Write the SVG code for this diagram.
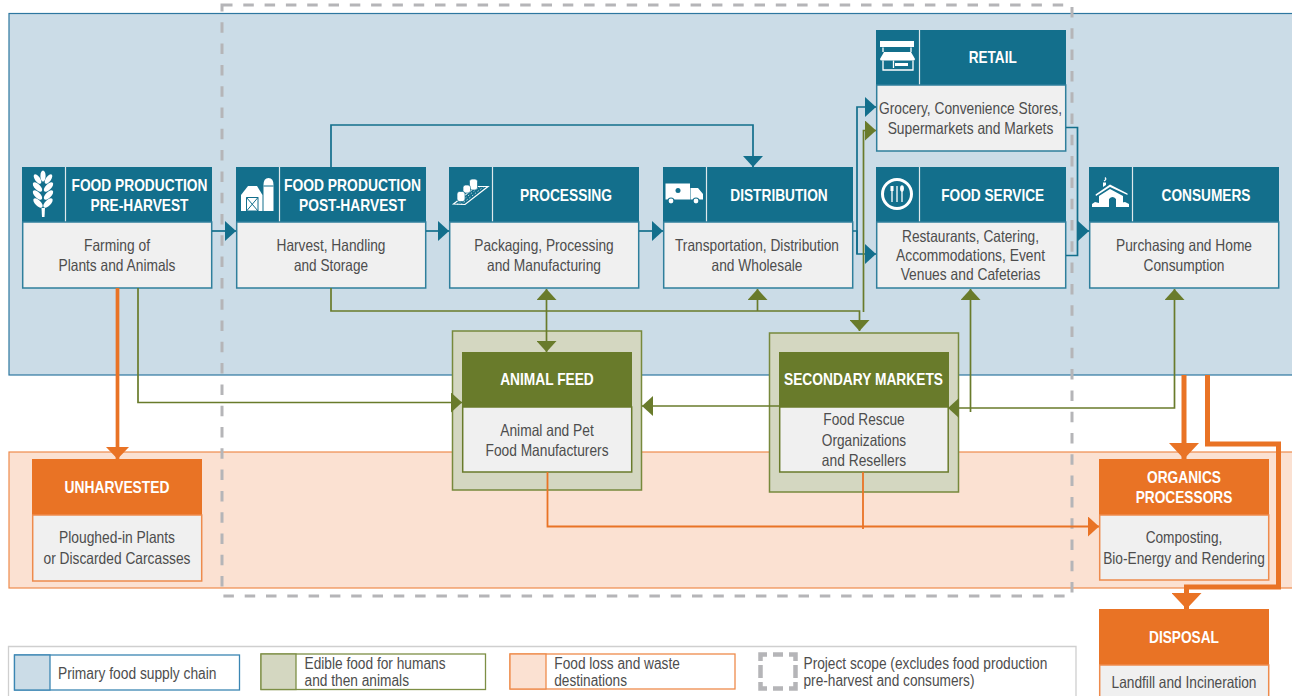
<svg xmlns="http://www.w3.org/2000/svg" width="1292" height="696" viewBox="0 0 1292 696">
<style>
text{font-family:"Liberation Sans",Arial,sans-serif;text-anchor:middle}
.h{font-size:16.500px;font-weight:700;fill:#fff}
.b{font-size:16.500px;fill:#4d4d4d}
.l{font-size:16px;fill:#4d4d4d;text-anchor:start}
.th{fill:#136f8c}.gh{fill:#697b2b}.oh{fill:#e97325}
.tb{fill:#f0f0f0;stroke:#2f7f9c;stroke-width:1.5}
.gb{fill:#f0f0f0;stroke:#697b2b;stroke-width:1.5}
.ob{fill:#f0f0f0;stroke:#ee8b4c;stroke-width:1.5}
.div{stroke:#dfe8ec;stroke-width:1.2}
.outer{fill:#d4d7c1;stroke:#77893c;stroke-width:1.5}
.ic{fill:#fff}.ict{fill:#136f8c}.ics{fill:none;stroke:#fff;stroke-width:1.3}
.ct{fill:none;stroke:#136f8c;stroke-width:1.7}
.cg{fill:none;stroke:#697b2b;stroke-width:1.7}
.co{fill:none;stroke:#e97325;stroke-width:1.8}
.coM{fill:none;stroke:#e97325;stroke-width:3.7}
.coL{fill:none;stroke:#e97325;stroke-width:5}
.dash{fill:none;stroke:#b5b5b8;stroke-width:3;stroke-dasharray:10.5 10.8}
</style>
<defs>
<marker id="at" markerUnits="userSpaceOnUse" markerWidth="11" markerHeight="20" refX="11" refY="10" orient="auto-start-reverse"><path d="M0 0L11 10L0 20Z" fill="#136f8c"/></marker>
<marker id="ag" markerUnits="userSpaceOnUse" markerWidth="11" markerHeight="20" refX="11" refY="10" orient="auto-start-reverse"><path d="M0 0L11 10L0 20Z" fill="#697b2b"/></marker>
<marker id="ao" markerUnits="userSpaceOnUse" markerWidth="11" markerHeight="20" refX="11" refY="10" orient="auto"><path d="M0 0L11 10L0 20Z" fill="#e97325"/></marker>
<marker id="aoM" markerUnits="userSpaceOnUse" markerWidth="12" markerHeight="23" refX="12" refY="11.500" orient="auto"><path d="M0 0L12 11.500L0 23Z" fill="#e97325"/></marker>
<marker id="aoL" markerUnits="userSpaceOnUse" markerWidth="16" markerHeight="30" refX="16" refY="15" orient="auto"><path d="M0 0L16 15L0 30Z" fill="#e97325"/></marker>
</defs>

<rect id="band-primary" x="9" y="13.500" width="1290" height="361.500" fill="#cbdce7" stroke="#2d77a0" stroke-width="1.200"/>
<rect id="band-loss" x="9" y="452" width="1290" height="136" fill="#fbe1d2" stroke="#ee8b4c" stroke-width="1.200"/>
<rect id="scope" class="dash" x="222" y="5" width="850" height="591"/>

<g id="pre-harvest">
<rect class="th" x="22" y="167" width="190" height="55"/><path class="div" d="M65.500 167V222"/>
<rect class="tb" x="22.700" y="222" width="189" height="66"/>
<g class="ic"><ellipse cx="43" cy="176" rx="2.600" ry="5.500"/>
<ellipse cx="37.500" cy="179" rx="2.600" ry="5.500" transform="rotate(-35 37.500 179)"/><ellipse cx="48.500" cy="179" rx="2.600" ry="5.500" transform="rotate(35 48.500 179)"/>
<ellipse cx="37.500" cy="187" rx="2.800" ry="6" transform="rotate(-45 37.500 187)"/><ellipse cx="48.500" cy="187" rx="2.800" ry="6" transform="rotate(45 48.500 187)"/>
<ellipse cx="37.500" cy="195" rx="2.800" ry="6" transform="rotate(-45 37.500 195)"/><ellipse cx="48.500" cy="195" rx="2.800" ry="6" transform="rotate(45 48.500 195)"/>
<ellipse cx="38" cy="203" rx="2.800" ry="6" transform="rotate(-45 38 203)"/><ellipse cx="48" cy="203" rx="2.800" ry="6" transform="rotate(45 48 203)"/>
<path d="M41.500 208H45L44.500 217H42Z"/></g>
<text class="h" x="139.500" y="191" textLength="136" lengthAdjust="spacingAndGlyphs">FOOD PRODUCTION</text>
<text class="h" x="139.500" y="211" textLength="98" lengthAdjust="spacingAndGlyphs">PRE-HARVEST</text>
<text class="b" x="117" y="251" textLength="66" lengthAdjust="spacingAndGlyphs">Farming of</text>
<text class="b" x="117" y="271" textLength="117" lengthAdjust="spacingAndGlyphs">Plants and Animals</text>
</g>

<g id="post-harvest">
<rect class="th" x="236" y="167" width="190" height="55"/><path class="div" d="M279.500 167V222"/>
<rect class="tb" x="236.700" y="222" width="189" height="66"/>
<path class="ic" d="M241 211V195L248 186H257L262.500 195V211Z"/><path class="ic" d="M263.500 211V185Q263.500 178 268.500 178Q273.500 178 273.500 185V211Z"/>
<path d="M263.500 186H273.500" stroke="#136f8c" stroke-width="1"/>
<path d="M246.500 197.500H258V211H246.500ZM246.500 197.500L258 211M258 197.500L246.500 211" fill="none" stroke="#136f8c" stroke-width="1"/>
<text class="h" x="352.500" y="191" textLength="137" lengthAdjust="spacingAndGlyphs">FOOD PRODUCTION</text>
<text class="h" x="352.500" y="211" textLength="107" lengthAdjust="spacingAndGlyphs">POST-HARVEST</text>
<text class="b" x="331" y="251" textLength="109" lengthAdjust="spacingAndGlyphs">Harvest, Handling</text>
<text class="b" x="331" y="271" textLength="74" lengthAdjust="spacingAndGlyphs">and Storage</text>
</g>

<g id="processing">
<rect class="th" x="449" y="167" width="190" height="55"/><path class="div" d="M492.500 167V222"/>
<rect class="tb" x="449.700" y="222" width="189" height="66"/>
<path d="M453.500 204L476 186.500H488L465 204.500Z" fill="none" stroke="#fff" stroke-width="1.200"/>
<path d="M457 204.500L480 186.500M461 204.500L484 186.500" stroke="#fff" stroke-width="0.700" stroke-dasharray="1.500 2"/>
<g class="ic" stroke="#136f8c" stroke-width="0.700"><rect x="469.500" y="179" width="8" height="11" rx="2.500"/><rect x="463" y="185" width="7.500" height="8" rx="2.500"/><rect x="457" y="191.500" width="8" height="10" rx="2.500"/></g>
<text class="h" x="566" y="201" textLength="92" lengthAdjust="spacingAndGlyphs">PROCESSING</text>
<text class="b" x="544" y="251" textLength="139.500" lengthAdjust="spacingAndGlyphs">Packaging, Processing</text>
<text class="b" x="544" y="271" textLength="114" lengthAdjust="spacingAndGlyphs">and Manufacturing</text>
</g>

<g id="distribution">
<rect class="th" x="663" y="167" width="190" height="55"/><path class="div" d="M706.500 167V222"/>
<rect class="tb" x="663.700" y="222" width="189" height="66"/>
<path class="ic" d="M665.500 183.500H690V199.500H665.500ZM690.500 188H698L703 194V199.500H690.500Z"/>
<circle class="ict" cx="678" cy="190.500" r="2.500"/>
<g class="ic" stroke="#136f8c" stroke-width="1.200"><circle cx="671" cy="201" r="3"/><circle cx="696" cy="201" r="3"/></g>
<text class="h" x="779" y="201" textLength="97.500" lengthAdjust="spacingAndGlyphs">DISTRIBUTION</text>
<text class="b" x="757" y="251" textLength="164" lengthAdjust="spacingAndGlyphs">Transportation, Distribution</text>
<text class="b" x="757" y="271" textLength="91" lengthAdjust="spacingAndGlyphs">and Wholesale</text>
</g>

<g id="retail">
<rect class="th" x="876" y="30" width="190" height="55"/><path class="div" d="M919.500 30V85"/>
<rect class="tb" x="876.700" y="85" width="189" height="66"/>
<rect class="ic" x="880" y="41" width="34" height="6"/>
<path class="ic" d="M884 52H911L915 59Q915 60.500 913 60.500H882Q880 60.500 880 59Z"/>
<path class="ics" d="M883 47.500V52M911 47.500V52M883 60.500V70H913V60.500M893.500 60.500V68"/>
<rect class="ic" x="895" y="63" width="13" height="3"/>
<text class="h" x="992.700" y="63" textLength="48" lengthAdjust="spacingAndGlyphs">RETAIL</text>
<text class="b" x="970.500" y="114" textLength="183" lengthAdjust="spacingAndGlyphs">Grocery, Convenience Stores,</text>
<text class="b" x="970.500" y="134" textLength="165.700" lengthAdjust="spacingAndGlyphs">Supermarkets and Markets</text>
</g>

<g id="food-service">
<rect class="th" x="876" y="167" width="190" height="55"/><path class="div" d="M919.500 167V222"/>
<rect class="tb" x="876.700" y="222" width="189" height="66"/>
<circle cx="897" cy="194" r="14.500" fill="none" stroke="#fff" stroke-width="3"/>
<path d="M892 186V202M897 186V202M902 186V202" stroke="#fff" stroke-width="1.300"/>
<ellipse class="ic" cx="902" cy="188.500" rx="1.900" ry="3.200"/><path class="ic" d="M890.500 186H893.500V191H890.500Z"/>
<text class="h" x="992.700" y="201" textLength="103" lengthAdjust="spacingAndGlyphs">FOOD SERVICE</text>
<text class="b" x="970.500" y="242" textLength="137" lengthAdjust="spacingAndGlyphs">Restaurants, Catering,</text>
<text class="b" x="970.500" y="261" textLength="149" lengthAdjust="spacingAndGlyphs">Accommodations, Event</text>
<text class="b" x="970.500" y="280" textLength="139.700" lengthAdjust="spacingAndGlyphs">Venues and Cafeterias</text>
</g>

<g id="consumers">
<rect class="th" x="1089" y="167" width="190" height="55"/><path class="div" d="M1132.500 167V222"/>
<rect class="tb" x="1089.700" y="222" width="189" height="66"/>
<path class="ic" d="M1092 207V204L1095 202L1099 203L1101 207ZM1118 207L1120 203L1125 202L1129 204V207Z"/>
<path class="ic" d="M1095.500 194.500L1110 184.500L1127.500 193.500V195L1110 187L1096 196Z"/>
<path class="ic" d="M1099 196L1110 189L1123 196V207H1116V199Q1112.500 195 1109 199V207H1099ZM1103 187V182.500H1106V185Z"/>
<path class="ics" d="M1104 181Q1107 179.500 1105 177.500"/>
<text class="h" x="1206" y="201" textLength="89" lengthAdjust="spacingAndGlyphs">CONSUMERS</text>
<text class="b" x="1184" y="251" textLength="136" lengthAdjust="spacingAndGlyphs">Purchasing and Home</text>
<text class="b" x="1184" y="271" textLength="81" lengthAdjust="spacingAndGlyphs">Consumption</text>
</g>

<g id="animal-feed">
<rect class="outer" x="452.500" y="331" width="189" height="159"/>
<rect class="gh" x="462" y="352" width="170" height="55"/>
<rect class="gb" x="462.700" y="407" width="169" height="65"/>
<text class="h" x="547" y="385" textLength="93.600" lengthAdjust="spacingAndGlyphs">ANIMAL FEED</text>
<text class="b" x="547" y="436" textLength="93.600" lengthAdjust="spacingAndGlyphs">Animal and Pet</text>
<text class="b" x="547" y="456" textLength="123" lengthAdjust="spacingAndGlyphs">Food Manufacturers</text>
</g>

<g id="secondary-markets">
<rect class="outer" x="769.500" y="333" width="189" height="159"/>
<rect class="gh" x="779" y="352" width="170" height="55"/>
<rect class="gb" x="779.700" y="407" width="168.500" height="65"/>
<text class="h" x="863.500" y="385" textLength="159" lengthAdjust="spacingAndGlyphs">SECONDARY MARKETS</text>
<text class="b" x="864" y="425" textLength="81.400" lengthAdjust="spacingAndGlyphs">Food Rescue</text>
<text class="b" x="864" y="446" textLength="84.300" lengthAdjust="spacingAndGlyphs">Organizations</text>
<text class="b" x="864" y="466" textLength="84.300" lengthAdjust="spacingAndGlyphs">and Resellers</text>
</g>

<g id="unharvested">
<rect class="oh" x="32" y="459" width="170" height="56"/>
<rect class="ob" x="32.700" y="515" width="169" height="66"/>
<text class="h" x="117" y="493" textLength="105" lengthAdjust="spacingAndGlyphs">UNHARVESTED</text>
<text class="b" x="117" y="543" textLength="116" lengthAdjust="spacingAndGlyphs">Ploughed-in Plants</text>
<text class="b" x="117" y="564" textLength="147" lengthAdjust="spacingAndGlyphs">or Discarded Carcasses</text>
</g>

<g id="organics-processors">
<rect class="oh" x="1099" y="459" width="170" height="56"/>
<rect class="ob" x="1099.700" y="515" width="169" height="65"/>
<text class="h" x="1184" y="483" textLength="74" lengthAdjust="spacingAndGlyphs">ORGANICS</text>
<text class="h" x="1184" y="503" textLength="96.700" lengthAdjust="spacingAndGlyphs">PROCESSORS</text>
<text class="b" x="1184" y="543" textLength="76.700" lengthAdjust="spacingAndGlyphs">Composting,</text>
<text class="b" x="1184" y="564" textLength="161.700" lengthAdjust="spacingAndGlyphs">Bio-Energy and Rendering</text>
</g>

<g id="disposal">
<rect class="oh" x="1099" y="609" width="170" height="56"/>
<rect class="ob" x="1099.700" y="665" width="169" height="40"/>
<text class="h" x="1184" y="643" textLength="70" lengthAdjust="spacingAndGlyphs">DISPOSAL</text>
<text class="b" x="1184" y="688" textLength="145" lengthAdjust="spacingAndGlyphs">Landfill and Incineration</text>
</g>

<g id="connectors">
<path class="ct" d="M212 231H236" marker-end="url(#at)"/>
<path class="ct" d="M426 231H449" marker-end="url(#at)"/>
<path class="ct" d="M639 231H663" marker-end="url(#at)"/>
<path class="ct" d="M331 167V125H753V167" marker-end="url(#at)"/>
<path class="ct" d="M853 231H857V254H876" marker-end="url(#at)"/>
<path class="ct" d="M857 254V107H876" marker-end="url(#at)"/>
<path class="ct" d="M1066 127.500H1077.500V255.500H1066"/>
<path class="ct" d="M1077.500 231H1089" marker-end="url(#at)"/>
<path class="cg" d="M331 288V311H859.500V331" marker-end="url(#ag)"/>
<path class="cg" d="M863.500 312V130.500H876" marker-end="url(#ag)"/>
<path class="cg" d="M546.500 289V352" marker-start="url(#ag)" marker-end="url(#ag)"/>
<path class="cg" d="M757.500 311V289" marker-end="url(#ag)"/>
<path class="cg" d="M970.500 412V289" marker-end="url(#ag)"/>
<path class="cg" d="M1174.500 289V408H948" marker-start="url(#ag)" marker-end="url(#ag)"/>
<path class="cg" d="M138 288V402.500H462" marker-end="url(#ag)"/>
<path class="cg" d="M779 406H642" marker-end="url(#ag)"/>
<path class="coM" d="M117.500 288V459" marker-end="url(#aoM)"/>
<path class="co" d="M547.500 472V526.500H1099" marker-end="url(#ao)"/>
<path class="co" d="M863 472V529"/>
<path class="coL" d="M1184 375V459" marker-end="url(#aoL)"/>
<path class="coL" d="M1207.500 375V444H1278.500V587H1186.500V609" marker-end="url(#aoL)"/>
</g>

<g id="legend">
<path d="M8.500 700V646.500H1076V700" fill="none" stroke="#cfcfcf" stroke-width="1.300"/>
<rect x="14.500" y="655" width="225" height="35" fill="#fff" stroke="#3b86b3" stroke-width="1.300"/>
<rect x="14.500" y="655" width="35.500" height="35" fill="#cbdce7" stroke="#3b86b3" stroke-width="1.300"/>
<text class="l" x="58" y="679" textLength="158.500" lengthAdjust="spacingAndGlyphs">Primary food supply chain</text>
<rect x="261" y="654" width="224.500" height="35.500" fill="#fff" stroke="#7d8f45" stroke-width="1.300"/>
<rect x="261" y="654" width="35" height="35.500" fill="#d4d7c1" stroke="#7d8f45" stroke-width="1.300"/>
<text class="l" x="304.500" y="669" textLength="141" lengthAdjust="spacingAndGlyphs">Edible food for humans</text>
<text class="l" x="304.500" y="686" textLength="104.500" lengthAdjust="spacingAndGlyphs">and then animals</text>
<rect x="510" y="654" width="225" height="35" fill="#fff" stroke="#ee8b4c" stroke-width="1.300"/>
<rect x="510" y="654" width="36" height="35" fill="#fbe1d2" stroke="#ee8b4c" stroke-width="1.300"/>
<text class="l" x="554.300" y="669" textLength="125.500" lengthAdjust="spacingAndGlyphs">Food loss and waste</text>
<text class="l" x="554.300" y="686" textLength="72.700" lengthAdjust="spacingAndGlyphs">destinations</text>
<path d="M760.500 661V654.500H767M773 654.500H783M789 654.500H795.500V661M795.500 665V678M795.500 682V688.500H789M783 688.500H773M767 688.500H760.500V682M760.500 678V665" fill="none" stroke="#b5b5b8" stroke-width="4.500"/>
<text class="l" x="803.500" y="669" textLength="243.800" lengthAdjust="spacingAndGlyphs">Project scope (excludes food production</text>
<text class="l" x="803.500" y="686" textLength="171" lengthAdjust="spacingAndGlyphs">pre-harvest and consumers)</text>
</g>
</svg>
